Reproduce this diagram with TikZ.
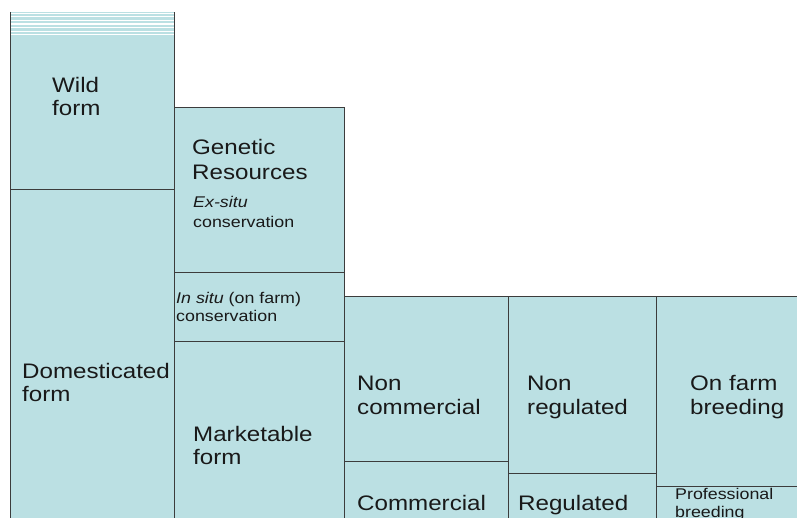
\documentclass[tikz,border=0pt]{standalone}
\usepackage{fontspec}
\setmainfont{Liberation Sans}[FakeStretch=1.15]
\begin{document}
\begin{tikzpicture}[x=1pt,y=-1pt,
  cell/.style={fill=cellfill, draw=edge, line width=0.9pt, inner sep=0pt, outer sep=0pt, anchor=north west},
  big/.style={font=\fontsize{21}{24}\selectfont, text=ink, inner sep=0pt, anchor=base west},
  small/.style={font=\fontsize{15.5}{18}\selectfont, text=ink, inner sep=0pt, anchor=base west}]
\definecolor{cellfill}{RGB}{187,224,227}
\definecolor{edge}{RGB}{60,60,60}
\definecolor{ink}{RGB}{25,25,25}
\useasboundingbox (0,0) rectangle (797,518);
\clip (0,0) rectangle (797,518);
\fill[white] (0,0) rectangle (797,518);

% first column: wild and domesticated forms
\node[cell, draw=none, minimum width=164pt, minimum height=177pt] (wild) at (10,12) {};
\foreach \s in {0,...,6}
  \fill[white] (10,{12.6+\s*3.6}) rectangle (174,{13.9+\s*3.6});
\draw[edge, line width=0.9pt] (wild.north west) -- (wild.south west) -- (wild.south east) -- (wild.north east);
\node[cell, minimum width=164pt, minimum height=341pt] (dom) at (10,189) {};

% second column
\node[cell, minimum width=170pt, minimum height=165pt] (gen) at (174,107) {};
\node[cell, minimum width=170pt, minimum height=69pt] (insitu) at (174,272) {};
\node[cell, minimum width=170pt, minimum height=189pt] (market) at (174,341) {};

% third column
\node[cell, minimum width=164pt, minimum height=165pt] (noncomm) at (344,296) {};
\node[cell, minimum width=164pt, minimum height=69pt] (comm) at (344,461) {};

% fourth column
\node[cell, minimum width=148pt, minimum height=177pt] (nonreg) at (508,296) {};
\node[cell, minimum width=148pt, minimum height=57pt] (reg) at (508,473) {};

% fifth column
\node[cell, minimum width=150pt, minimum height=190pt] (onfarm) at (656,296) {};
\node[cell, minimum width=150pt, minimum height=44pt] (prof) at (656,486) {};

% labels
\node[big] (wild1) at (52,93) {Wild};
\node[big] (wild2) at (52,116) {form};
\node[big] (dom1) at (22,378) {Domesticated};
\node[big] (dom2) at (22,401) {form};
\node[big] (gen1) at (192,155) {Genetic};
\node[big] (gen2) at (192,180) {Resources};
\node[small] (ex1) at (193,208) {\itshape Ex-situ};
\node[small] (ex2) at (193,228) {conservation};
\node[small] (in1) at (176,304) {\itshape In situ\/ \upshape(on farm)};
\node[small] (in2) at (176,322) {conservation};
\node[big] (mk1) at (193,441) {Marketable};
\node[big] (mk2) at (193,464) {form};
\node[big] (nc1) at (357,390) {Non};
\node[big] (nc2) at (357,414) {commercial};
\node[big] (nr1) at (527,390) {Non};
\node[big] (nr2) at (527,414) {regulated};
\node[big] (of1) at (690,390) {On farm};
\node[big] (of2) at (690,414) {breeding};
\node[big] (cm) at (357,510) {Commercial};
\node[big] (rg) at (518,510) {Regulated};
\node[small] (pf1) at (675,499) {Professional};
\node[small] (pf2) at (675,517) {breeding};
\end{tikzpicture}
\end{document}
